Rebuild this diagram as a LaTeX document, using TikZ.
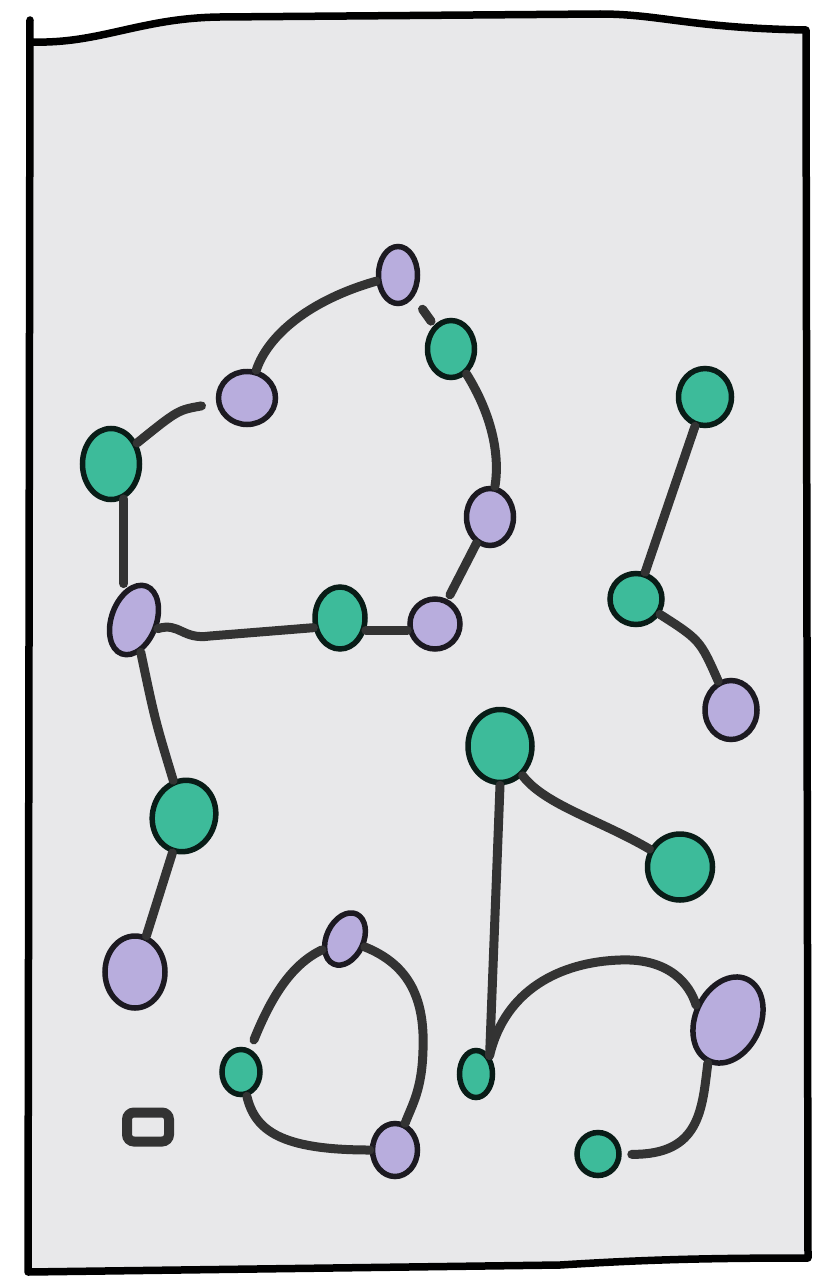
\documentclass[tikz,border=0pt]{standalone}
\usepackage{tikz}
\usetikzlibrary{shapes.geometric}
\definecolor{tealcol}{HTML}{3DBB9A}
\definecolor{lilaccol}{HTML}{B8ADDD}
\definecolor{inkcol}{HTML}{333333}
\definecolor{papercol}{HTML}{E8E8EA}

\begin{document}
\begin{tikzpicture}[x=0.2mm, y=-0.2mm,
  dot/.style={ellipse, line width=1.1mm, inner sep=0pt},
  tdot/.style={dot, fill=tealcol, draw=black!85!tealcol},
  pdot/.style={dot, fill=lilaccol, draw=black!85!lilaccol},
  lonebox/.style={rectangle, rounded corners=1.4mm, draw=inkcol, line width=2mm,
    fill=papercol, minimum width=8.4mm, minimum height=5.8mm, inner sep=0pt},
  link/.style={inkcol, line width=1.8mm, line cap=round}]
\useasboundingbox (0,0) rectangle (830,1279);
% sheet
\draw[fill=papercol, line width=1.5mm, line join=round, line cap=round]
  (30,20) -- (28,1272) -- (560,1265) .. controls (640,1260) and (700,1258) .. (808,1258)
  -- (806,30) .. controls (690,28) and (660,14) .. (600,14) -- (220,17)
  .. controls (140,18) and (100,44) .. (32,42);
% dots
\node[pdot, minimum width=7.8mm, minimum height=11.4mm] (p1) at (398,275) {};
\node[tdot, minimum width=9.4mm, minimum height=11.4mm] (t1) at (451,349) {};
\node[pdot, minimum width=11.4mm, minimum height=10.6mm] (p2) at (247,398) {};
\node[tdot, minimum width=11.4mm, minimum height=14.2mm] (t2) at (111,464) {};
\node[pdot, minimum width=9.4mm, minimum height=11.4mm] (p3) at (490,517) {};
\node[tdot, minimum width=10.6mm, minimum height=11.4mm] (t3) at (705,397) {};
\node[pdot, minimum width=9mm, minimum height=14.4mm, rotate=-20] (p4) at (134,620) {};
\node[tdot, minimum width=10mm, minimum height=12.4mm] (t4) at (340,618) {};
\node[pdot, minimum width=10mm, minimum height=10mm] (p5) at (435,624) {};
\node[tdot, minimum width=10.4mm, minimum height=10.2mm] (t5) at (636,599) {};
\node[pdot, minimum width=10.4mm, minimum height=11.8mm] (p6) at (731,710) {};
\node[tdot, minimum width=12.8mm, minimum height=14.6mm] (t6) at (500,746) {};
\node[tdot, minimum width=12.6mm, minimum height=14.4mm, rotate=-15] (t7) at (184,816) {};
\node[tdot, minimum width=13mm, minimum height=13.2mm] (t8) at (680,867) {};
\node[pdot, minimum width=12mm, minimum height=14.4mm] (p7) at (135,972) {};
\node[pdot, minimum width=7.4mm, minimum height=11mm, rotate=-25] (p8) at (345,939) {};
\node[pdot, minimum width=13mm, minimum height=18mm, rotate=-25] (p9) at (728,1020) {};
\node[tdot, minimum width=7.6mm, minimum height=9mm] (t9) at (241,1072) {};
\node[tdot, minimum width=6.6mm, minimum height=9.4mm] (t10) at (476,1074) {};
\node[pdot, minimum width=9mm, minimum height=10.6mm] (p10) at (395,1150) {};
\node[tdot, minimum width=8.4mm, minimum height=8.6mm] (t11) at (598,1154) {};
\node[lonebox] (lone) at (148,1127) {};
% links
\draw[link] (p1) .. controls (310,300) and (268,335) .. (p2);
\draw[link, shorten <=3mm, shorten >=1mm] (p1) -- (t1);
\draw[link, shorten <=3mm] (p2) .. controls (178,410) .. (t2);
\draw[link] (t2.-70) -- (t2.-70 |- p4.north);
\draw[link] (t1) .. controls (492,415) and (500,455) .. (p3);
\draw[link, shorten <=1mm] (p5) -- (p3);
\draw[link] (p4.east) .. controls (180,622) and (182,640) .. (210,636) -- (t4.200);
\draw[link] (t4.-25) -- (t4.-25 -| p5.west);
\draw[link] (p4) .. controls (155,720) .. (t7);
\draw[link] (t7) -- (p7);
\draw[link] (t3) -- (t5);
\draw[link] (t5) .. controls (700,640) .. (p6);
\draw[link] (t6) .. controls (545,805) and (600,820) .. (t8);
\draw[link] (t6.south) -- (t10.north east);
\draw[link] (t10.north east) .. controls (505,990) and (560,962) .. (620,960)
  .. controls (670,958) and (690,985) .. (p9.west);
\draw[link, shorten >=2mm] (p9.south) .. controls (702,1110) and (700,1155) .. (t11);
\draw[link, shorten >=2mm] (p8) .. controls (290,965) and (270,1000) .. (t9);
\draw[link] (p8) .. controls (410,965) and (425,1000) .. (423,1050)
  .. controls (422,1090) and (412,1105) .. (p10);
\draw[link] (t9) .. controls (255,1130) and (280,1150) .. (p10);
\end{tikzpicture}
\end{document}
